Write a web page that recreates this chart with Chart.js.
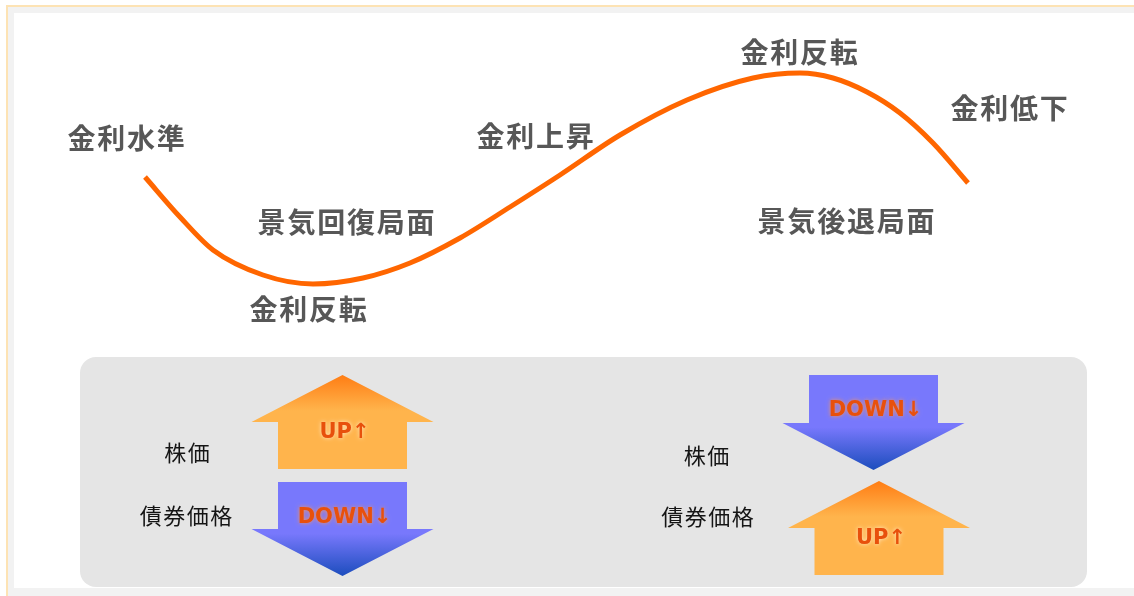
<!DOCTYPE html>
<html>
<head>
<meta charset="utf-8">
<script src="https://cdn.jsdelivr.net/npm/chart.js@4.4.1/dist/chart.umd.min.js"></script>
<style>
  html, body { margin: 0; padding: 0; background: #ffffff; }
  #wrap { position: relative; width: 1134px; height: 596px; }
</style>
</head>
<body>
<div id="wrap"><canvas id="c"></canvas></div>
<script>
// ---- Data (phase units along x, rate level along y) ----
const phaseX    = [14.5, 18.0, 21.3, 26.3, 31.3, 36.3, 41.0, 46.0, 51.0, 56.0, 62.0, 68.7, 75.3, 80.0, 83.3, 86.7, 90.0, 93.3, 96.8];
const rateLevel = [41.9, 37.9, 34.6, 32.1, 31.2, 31.8, 33.3, 35.8, 38.9, 42.1, 46.1, 49.6, 51.8, 52.3, 51.8, 50.4, 48.3, 45.3, 41.3];

const labelText = ['金利水準', '景気回復局面', '金利反転', '金利上昇', '金利反転', '金利低下', '景気後退局面'];
const labelX    = [12.6, 34.6, 30.8, 53.5, 79.9, 100.9, 84.6];
const labelY    = [45.8, 37.4, 28.7, 45.95, 54.35, 48.75, 37.5];

const panelText = ['株価', '債券価格', '株価', '債券価格'];
const panelX    = [18.7, 18.6, 70.65, 70.75];
const panelY    = [14.3, 8.05, 14.0, 7.9];

const arrowX    = [34.25, 34.25, 87.35, 87.9];
const arrowTail = [12.7, 11.4, 22.1, 2.1];
const arrowTip  = [22.1, 2.0, 12.6, 11.5];
const arrowText = ['UP↑', 'DOWN↓', 'DOWN↓', 'UP↑'];

const panelBox  = { x0: 8.0, x1: 108.7, y0: 0.9, y1: 23.9 };

// ---- Drawing plugin for the decorations ----
const diagram = {
  id: 'diagram',
  beforeDraw(chart) {
    const ctx = chart.ctx, W = chart.width, H = chart.height;
    const xs = chart.scales.x, ys = chart.scales.y;
    ctx.save();
    // outer frame
    ctx.fillStyle = '#ffffff';
    ctx.fillRect(0, 0, W, H);
    ctx.fillStyle = '#f2f2f2';
    ctx.fillRect(8, 7, W - 8, 6);
    ctx.fillRect(8, 7, 6, H - 7);
    ctx.fillRect(8, 588, W - 8, H - 588);
    ctx.fillStyle = '#fde3b4';
    ctx.fillRect(6, 5, W - 6, 2);
    ctx.fillRect(6, 5, 2, H - 5);
    // gray panel
    const px0 = xs.getPixelForValue(panelBox.x0), px1 = xs.getPixelForValue(panelBox.x1);
    const py0 = ys.getPixelForValue(panelBox.y1), py1 = ys.getPixelForValue(panelBox.y0);
    ctx.fillStyle = '#e5e5e5';
    ctx.beginPath();
    ctx.roundRect(px0, py0, px1 - px0, py1 - py0, 16);
    ctx.fill();

    // arrows
    const headLen = 47, headHalf = 91, shaftHalf = 64.5;
    for (let i = 0; i < arrowX.length; i++) {
      const cx = xs.getPixelForValue(arrowX[i]);
      const tail = ys.getPixelForValue(arrowTail[i]);
      const tip = ys.getPixelForValue(arrowTip[i]);
      const dir = tip > tail ? 1 : -1;
      const base = tip - dir * headLen;
      const up = dir < 0;
      const main = up ? '#ffb44c' : '#7878fc';
      const dark = up ? '#ff7d14' : '#1c4dbd';
      const g = ctx.createLinearGradient(0, tail, 0, tip);
      g.addColorStop(0, main);
      g.addColorStop(up ? 0.62 : 0.55, main);
      g.addColorStop(1, dark);
      ctx.fillStyle = g;
      ctx.beginPath();
      ctx.moveTo(cx - shaftHalf, tail);
      ctx.lineTo(cx - shaftHalf, base);
      ctx.lineTo(cx - headHalf, base);
      ctx.lineTo(cx, tip);
      ctx.lineTo(cx + headHalf, base);
      ctx.lineTo(cx + shaftHalf, base);
      ctx.lineTo(cx + shaftHalf, tail);
      ctx.closePath();
      ctx.fill();

      ctx.save();
      ctx.font = 'bold 21px "DejaVu Sans"';
      ctx.textAlign = 'center';
      ctx.textBaseline = 'middle';
      ctx.shadowColor = up ? 'rgba(255,235,200,0.95)' : 'rgba(255,150,80,0.9)';
      ctx.shadowBlur = 4;
      ctx.fillStyle = '#e8500c';
      ctx.fillText(arrowText[i], cx + 2, tail + dir * 36);
      ctx.restore();
    }

    // panel texts
    ctx.font = '22px "Noto Sans CJK JP"';
    ctx.letterSpacing = '1.5px';
    ctx.fillStyle = '#151515';
    ctx.textAlign = 'center';
    ctx.textBaseline = 'middle';
    for (let i = 0; i < panelText.length; i++) {
      ctx.fillText(panelText[i], xs.getPixelForValue(panelX[i]) + 0.75, ys.getPixelForValue(panelY[i]));
    }
    ctx.restore();
  },
  afterDatasetsDraw(chart) {
    const ctx = chart.ctx;
    const xs = chart.scales.x, ys = chart.scales.y;
    ctx.save();
    ctx.font = 'bold 28px "Noto Sans CJK JP"';
    ctx.letterSpacing = '1.8px';
    ctx.fillStyle = '#575757';
    ctx.textAlign = 'center';
    ctx.textBaseline = 'middle';
    for (let i = 0; i < labelText.length; i++) {
      ctx.fillText(labelText[i], xs.getPixelForValue(labelX[i]) + 1, ys.getPixelForValue(labelY[i]));
    }
    ctx.restore();
  }
};

new Chart(document.getElementById('c'), {
  type: 'line',
  data: {
    datasets: [{
      label: '金利水準',
      data: phaseX.map((x, i) => ({ x, y: rateLevel[i] })),
      borderColor: '#ff6600',
      borderWidth: 5,
      cubicInterpolationMode: 'monotone',
      pointRadius: 0,
      fill: false,
      borderCapStyle: 'butt'
    }]
  },
  options: {
    responsive: true,
    maintainAspectRatio: false,
    animation: false,
    layout: { padding: 0 },
    events: [],
    scales: {
      x: { type: 'linear', min: 0, max: 113.4, display: false },
      y: { type: 'linear', min: 0, max: 59.6, display: false }
    },
    plugins: { legend: { display: false }, tooltip: { enabled: false } }
  },
  plugins: [diagram]
});
</script>
</body>
</html>
